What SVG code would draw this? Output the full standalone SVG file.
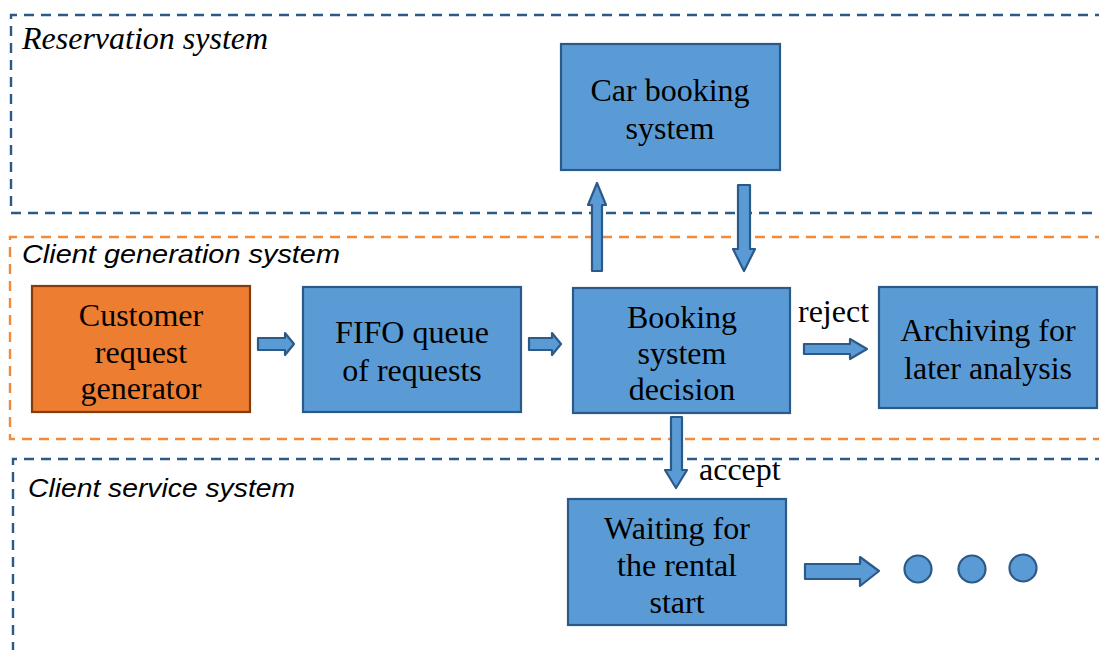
<svg xmlns="http://www.w3.org/2000/svg" width="1099" height="650" viewBox="0 0 1099 650">
<style>
.node{fill:#5b9bd5;stroke:#2c5a88;stroke-width:2.2}
.org{fill:#ed7d31;stroke:#843c0c;stroke-width:2.2}
.arr{fill:#5b9bd5;stroke:#2c5a88;stroke-width:2.2;stroke-linejoin:round}
.t{font-family:"Liberation Serif","Times New Roman",serif;font-size:32px;fill:#000;text-anchor:middle}
.lbl{font-family:"Liberation Serif","Times New Roman",serif;font-size:32px;fill:#000}
.gs{fill:none;stroke-width:2.4;stroke-dasharray:10 7}
.navy{stroke:#2c5a88}
.orng{stroke:#f08a3c}
.title1{font-family:"Liberation Serif","Times New Roman",serif;font-style:italic;font-size:32px;fill:#000}
.title2{font-family:"Liberation Sans",Arial,sans-serif;font-style:italic;font-size:26px;fill:#000}
</style>
<rect width="1099" height="650" fill="#fff"/>
<g id="groups">
<path class="gs navy" d="M1105,15 H11 V213 H1105"/>
<path class="gs orng" d="M1105,237 H10 V439 H1105"/>
<path class="gs navy" d="M1105,459 H13 V655"/>
<text class="title1" x="22" y="49">Reservation system</text>
<text class="title2" x="22" y="263" textLength="318" lengthAdjust="spacingAndGlyphs">Client generation system</text>
<text class="title2" x="28" y="497" textLength="267" lengthAdjust="spacingAndGlyphs">Client service system</text>
</g>
<g id="connectors">
<path class="arr" d="M592,271 V205 H588 L597,183 L606,205 H602 V271 Z"/>
<path class="arr" d="M738,185 H750 V249 H755 L744,271 L733,249 H738 Z"/>
<path class="arr" d="M258,338 H285 V333 L294,344 L285,355 V350 H258 Z"/>
<path class="arr" d="M529,338 H552 V333 L561,344 L552,355 V350 H529 Z"/>
<path class="arr" d="M804,344 H850 V339 L867,349 L850,359 V354 H804 Z"/>
<path class="arr" d="M671,417 H682 V470 H687 L676,488 L665,470 H671 Z"/>
<path class="arr" d="M805,564 H860 V557 L879,571 L860,586 V579 H805 Z"/>
<text class="lbl" x="798" y="322">reject</text>
<text class="lbl" x="699" y="480">accept</text>
</g>
<g id="car-booking">
<rect class="node" x="561" y="44" width="219" height="126"/>
<text class="t" x="670" y="101">Car booking</text>
<text class="t" x="670" y="139">system</text>
</g>
<g id="customer-generator">
<rect class="org" x="32" y="286" width="218" height="126"/>
<text class="t" x="141" y="326">Customer</text>
<text class="t" x="141" y="363">request</text>
<text class="t" x="141" y="399">generator</text>
</g>
<g id="fifo">
<rect class="node" x="303" y="287" width="218" height="125"/>
<text class="t" x="412" y="343">FIFO queue</text>
<text class="t" x="412" y="381">of requests</text>
</g>
<g id="decision">
<rect class="node" x="573" y="288" width="217" height="125"/>
<text class="t" x="682" y="328">Booking</text>
<text class="t" x="682" y="364">system</text>
<text class="t" x="682" y="400">decision</text>
</g>
<g id="archiving">
<rect class="node" x="879" y="287" width="218" height="121"/>
<text class="t" x="988" y="341">Archiving for</text>
<text class="t" x="988" y="379">later analysis</text>
</g>
<g id="waiting">
<rect class="node" x="568" y="499" width="218" height="126"/>
<text class="t" x="677" y="539">Waiting for</text>
<text class="t" x="677" y="576">the rental</text>
<text class="t" x="677" y="613">start</text>
</g>
<g id="dots">
<circle class="node" cx="918" cy="569" r="13.5"/>
<circle class="node" cx="972" cy="569" r="13.5"/>
<circle class="node" cx="1023" cy="568" r="13.5"/>
</g>
</svg>
